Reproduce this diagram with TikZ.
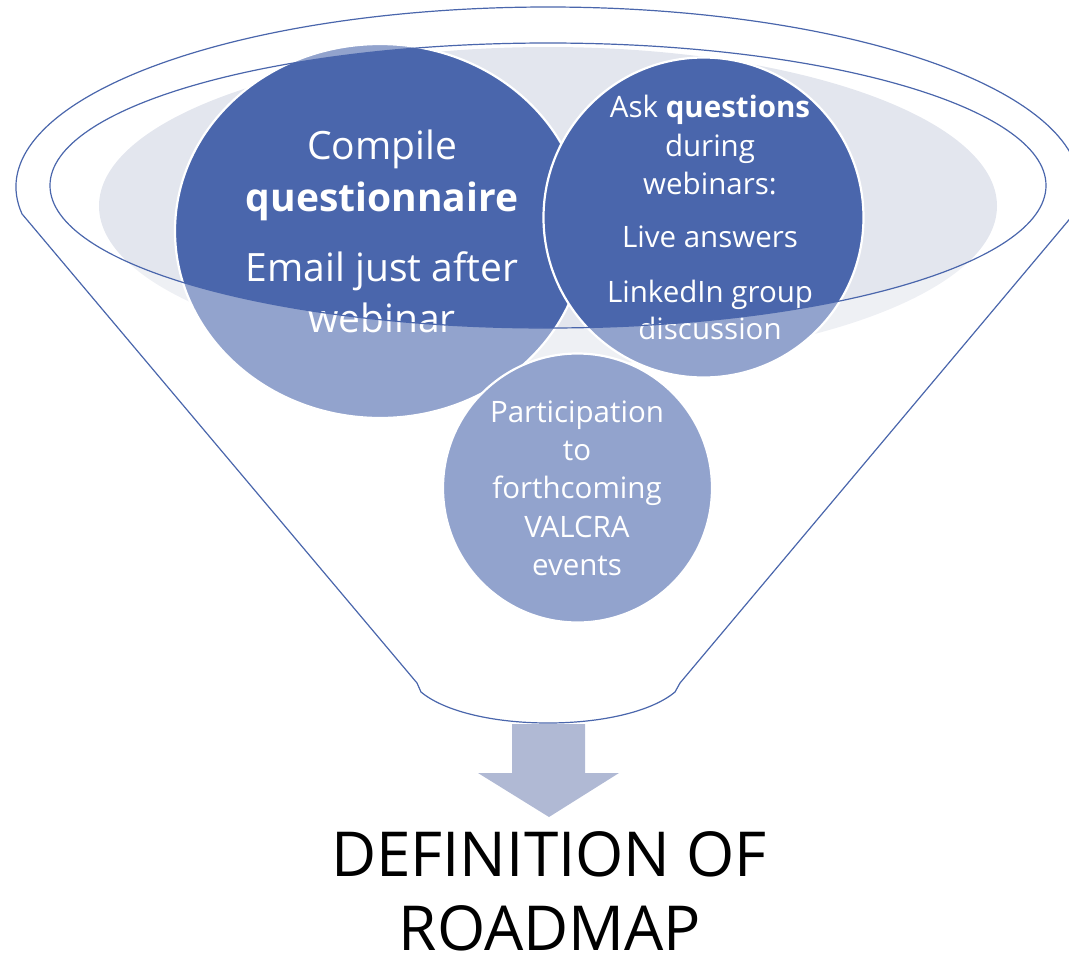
\documentclass[tikz,border=0pt]{standalone}
\usepackage{fontspec}
\setmainfont{Open Sans}
\definecolor{dkblue}{HTML}{4A66AC}
\definecolor{grayfill}{HTML}{E3E6EE}
\definecolor{lineblue}{HTML}{4A66AC}
\definecolor{arrowfill}{HTML}{B0B9D4}
\def\funnelpath{(22,213.9) arc[start angle=171.4, end angle=368.6, x radius=532, y radius=180] -- (680,683) .. controls (677,687) .. (675,692) .. controls (651,712) and (601,723) .. (548,723) .. controls (495,723) and (445,712) .. (421,692) .. controls (419,687) .. (417,683) -- cycle}
\def\innerellipse{(548,185.5) ellipse [x radius=498, y radius=142.5]}
\begin{document}
\begin{tikzpicture}[x=1pt,y=-1pt,
  bubble/.style={fill=dkblue, draw=white, line width=2.2pt},
  bigtxt/.style={text=white, inner sep=0pt, anchor=base, font=\fontsize{39}{48}\selectfont},
  smalltxt/.style={text=white, inner sep=0pt, anchor=base, font=\fontsize{29.5}{36}\selectfont},
  titletxt/.style={text=black, inner sep=0pt, anchor=base, font=\fontsize{62}{76}\selectfont},
  outline/.style={draw=lineblue, line width=1.2pt}]
\useasboundingbox (0,0) rectangle (1069,954);
% gray disc
\fill[grayfill] (548,206) ellipse [x radius=449, y radius=159];
% bubbles
\filldraw[bubble] (380,231) ellipse [x radius=205, y radius=187];
\filldraw[bubble] (703.5,217.5) circle [radius=160];
\filldraw[bubble] (577.5,488) circle [radius=134.5];
% bubble 1 text
\node[bigtxt] (a1) at (382,159) {Compile};
\node[bigtxt] (a2) at (382,211) {\textbf{questionnaire}};
\node[bigtxt] (a3) at (382,281) {Email just after};
\node[bigtxt] (a4) at (382,332) {webinar};
% bubble 2 text
\node[smalltxt] (b1) at (710,117) {Ask \textbf{questions}};
\node[smalltxt] (b2) at (710,156) {during};
\node[smalltxt] (b3) at (710,194) {webinars:};
\node[smalltxt] (b4) at (710,247) {Live answers};
\node[smalltxt] (b5) at (710,302) {LinkedIn group};
\node[smalltxt] (b6) at (710,339) {discussion};
% bubble 3 text
\node[smalltxt] (c1) at (577,422) {Participation};
\node[smalltxt] (c2) at (577,460) {to};
\node[smalltxt] (c3) at (577,498) {forthcoming};
\node[smalltxt] (c4) at (577,537) {VALCRA};
\node[smalltxt] (c5) at (577,575) {events};
% funnel body overlay
\fill[white, fill opacity=0.4, even odd rule] \funnelpath \innerellipse;
% funnel outlines
\path[outline] \funnelpath;
\path[outline] \innerellipse;
% arrow
\fill[arrowfill] (512,724) -- (585,724) -- (585,773) -- (619,773) -- (549,817) -- (478,773) -- (512,773) -- cycle;
% title
\node[titletxt] (t1) at (549,876) {DEFINITION OF};
\node[titletxt] (t2) at (550,950) {ROADMAP};
\end{tikzpicture}
\end{document}
